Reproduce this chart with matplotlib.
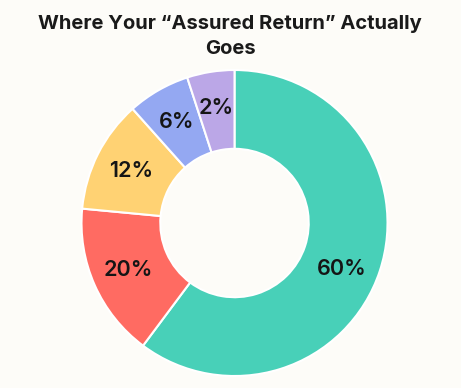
import numpy as np
import matplotlib.pyplot as plt

# wedge sizes as drawn (angles) and the printed labels
segments = ["Fees", "Charges", "Commissions", "Admin", "Other"]
shares = [60.2, 16.3, 11.9, 6.6, 5.0]
pct_labels = ["60%", "20%", "12%", "6%", "2%"]
colors = ["#48D0B8", "#FF6B62", "#FFD273", "#94A8F2", "#BBA7E7"]

bg = "#FDFCF8"

fig = plt.figure(figsize=(4.61, 3.88), dpi=100, facecolor=bg)

# square axes placed so the ring sits where it does in the reference
ax = fig.add_axes([0.1768, 0.0309, 0.6638, 0.7887])
ax.set_facecolor(bg)

wedges, texts = ax.pie(
    shares,
    labels=pct_labels,
    colors=colors,
    startangle=90,
    counterclock=False,
    radius=1.0,
    labeldistance=0.76,
    wedgeprops=dict(width=0.515, edgecolor="white", linewidth=1.5),
    textprops=dict(fontsize=15.5, color="#151515", family="Inter",
                   fontweight="semibold", ha="center", va="center"),
)

# the big label sits a little below its wedge's middle
w = wedges[0]
ang = np.deg2rad((w.theta1 + w.theta2) / 2 - 5)
texts[0].set_position((0.76 * np.cos(ang), 0.76 * np.sin(ang)))

ax.set_xlim(-1, 1)
ax.set_ylim(-1, 1)
ax.set_aspect("equal")
ax.axis("off")

fig.text(0.499, 0.938, "Where Your \u201cAssured Return\u201d Actually",
         ha="center", va="center", fontsize=14.5, fontweight="bold",
         family="Inter", color="#1A1A1A")
fig.text(0.499, 0.874, "Goes", ha="center", va="center", fontsize=14.5,
         fontweight="bold", family="Inter", color="#1A1A1A")

fig.savefig("out.png", dpi=100, facecolor=bg)
